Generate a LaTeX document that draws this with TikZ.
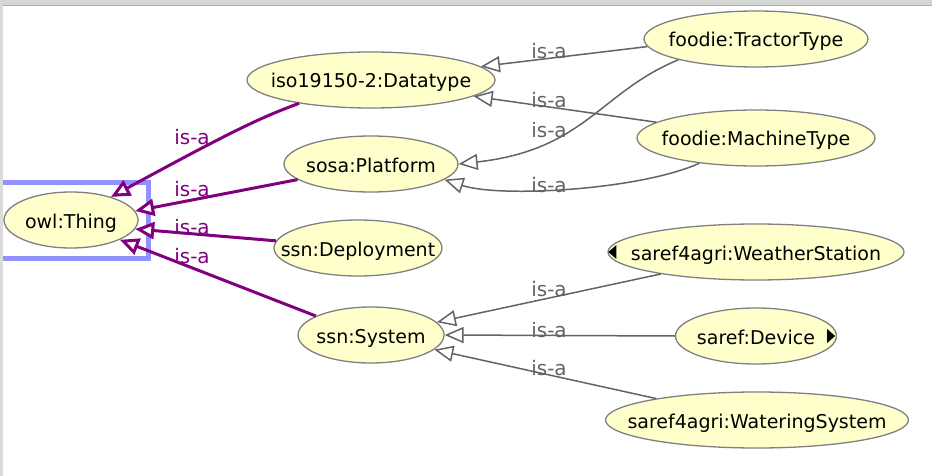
\documentclass[tikz,border=0pt]{standalone}
\usepackage{fontspec}
\setmainfont{DejaVu Sans}
\usetikzlibrary{shapes.geometric,arrows.meta}
\definecolor{owlpurple}{RGB}{128,0,128}
\definecolor{classfill}{RGB}{255,255,204}
\definecolor{selblue}{RGB}{145,145,255}
\newcommand{\cname}[1]{\makebox[0pt]{#1}}
\begin{document}
\begin{tikzpicture}[x=1pt, y=-1pt,
  cls/.style={ellipse, draw=black!50, line width=1.3pt, fill=classfill, inner sep=0pt, minimum height=56pt, text height=18pt, text depth=2pt, font=\fontsize{19}{23}\selectfont},
  isa/.style={anchor=base, inner sep=0pt, font=\fontsize{20}{24}\selectfont},
  top/.style={owlpurple, line width=3pt, -{Triangle[open, fill=white, length=19pt, width=17pt]}},
  sub/.style={black!61, line width=1.5pt, -{Triangle[open, fill=white, length=19pt, width=16pt]}}]
	\useasboundingbox (0,0) rectangle (932,476);
	% window frame and selection
	\fill[black!16] (0,0) rectangle (932,5);
	\draw[black!32, line width=1pt] (0,5.5) -- (932,5.5);
	\draw[selblue, line width=5pt] (-5,182.5) rectangle (148.5,258.5);
	\fill[black!14] (0,5) rectangle (2.5,476);
	% classes
	\node[cls, minimum width=134pt] (T) at (71,220) {\cname{owl:Thing}};
	\node[cls, minimum width=248pt] (DT) at (371,80) {\cname{iso19150-2:Datatype}};
	\node[cls, minimum width=174pt] (PL) at (371,164) {\cname{sosa:Platform}};
	\node[cls, minimum width=168pt] (DE) at (358,248) {\cname{ssn:Deployment}};
	\node[cls, minimum width=146pt] (SY) at (371,335) {\cname{ssn:System}};
	\node[cls, minimum width=224pt] (TT) at (756,39) {\cname{foodie:TractorType}};
	\node[cls, minimum width=238pt] (MT) at (756,138) {\cname{foodie:MachineType}};
	\node[cls, minimum width=296pt] (WS) at (756,252) {\cname{saref4agri:WeatherStation}};
	\node[cls, minimum width=161pt] (DV) at (756,336) {\cname{saref:Device}};
	\node[cls, minimum width=303pt] (WA) at (757,420) {\cname{saref4agri:WateringSystem}};
	\fill ([xshift=1pt]WS.west) -- ++(8,-7) -- ++(0,14) -- cycle;
	\fill ([xshift=-2pt]DV.east) -- ++(-8,-7) -- ++(0,14) -- cycle;
	% is-a to owl:Thing
	\draw[top] (DT.198.7) .. controls (262,117) and (234,130) .. (T.30) node[isa, at={(192,145)}] {is-a};
	\draw[top] (PL.192.2) -- (T.8.4) node[isa, at={(192,196.5)}] {is-a};
	\draw[top] (DE.175.8) -- (T.-8.3) node[isa, at={(192,234)}] {is-a};
	\draw[top] (SY.161.6) -- (T.-22.4) node[isa, at={(192,263)}] {is-a};
	% is-a between the other classes
	\draw[sub] (TT.184.8) -- (DT.7) node[isa, at={(549,59)}] {is-a};
	\draw[sub] (MT.171.95) -- (DT.-9.5) node[isa, at={(549,108)}] {is-a};
	\draw[sub] (TT.195.8) .. controls (600,92) and (585,150) .. (PL.0.7) node[isa, at={(549,138)}] {is-a};
	\draw[sub] (MT.204.5) .. controls (640,190) and (500,198) .. (PL.-12.2) node[isa, at={(549,193)}] {is-a};
	\draw[sub] (WS.193.2) -- (SY.11.1) node[isa, at={(549,296)}] {is-a};
	\draw[sub] (DV.west) -- (SY.east) node[isa, at={(549,337)}] {is-a};
	\draw[sub] (WA.168.6) -- (SY.-13.6) node[isa, at={(549,375)}] {is-a};
\end{tikzpicture}
\end{document}
